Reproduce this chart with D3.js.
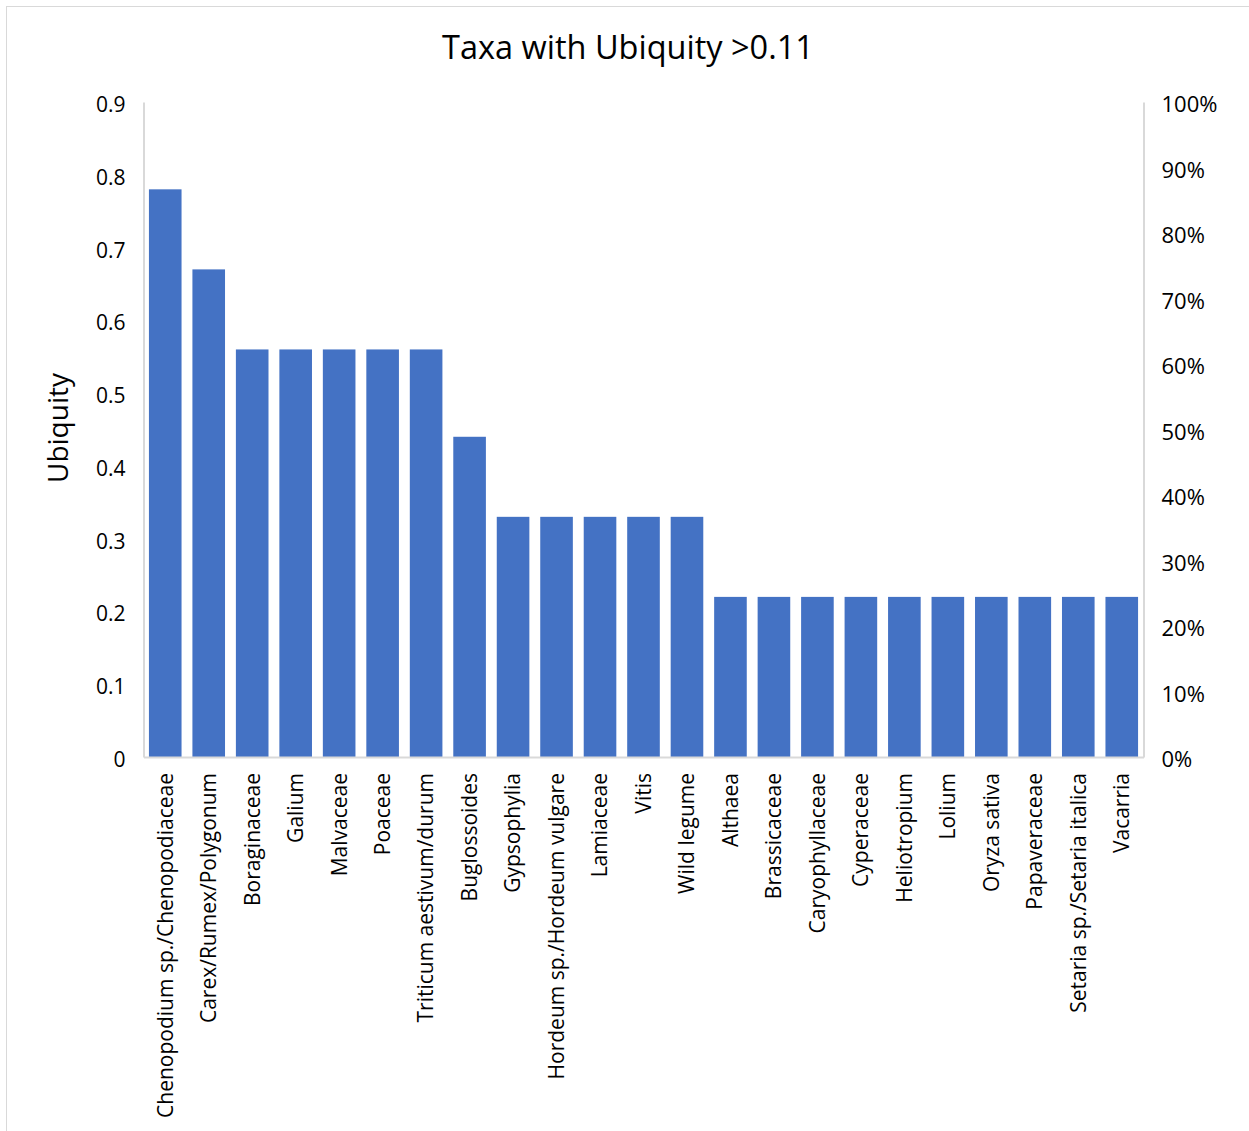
<!DOCTYPE html>
<html>
<head>
<meta charset="utf-8">
<script src="https://cdn.jsdelivr.net/npm/d3@7"></script>
<style>
  body { margin: 0; background: #fff; }
  text { font-family: "Open Sans", "Noto Sans", sans-serif; fill: #000; }
</style>
</head>
<body>
<div id="chart"></div>
<script>
var taxa = ["Chenopodium sp./Chenopodiaceae", "Carex/Rumex/Polygonum", "Boraginaceae", "Galium",
  "Malvaceae", "Poaceae", "Triticum aestivum/durum", "Buglossoides", "Gypsophylia",
  "Hordeum sp./Hordeum vulgare", "Lamiaceae", "Vitis", "Wild legume", "Althaea", "Brassicaceae",
  "Caryophyllaceae", "Cyperaceae", "Heliotropium", "Lolium", "Oryza sativa", "Papaveraceae",
  "Setaria sp./Setaria italica", "Vacarria"];
var ubiquity = [0.78, 0.67, 0.56, 0.56, 0.56, 0.56, 0.56, 0.44, 0.33, 0.33, 0.33, 0.33, 0.33,
  0.22, 0.22, 0.22, 0.22, 0.22, 0.22, 0.22, 0.22, 0.22, 0.22];
var leftTicks = [0, 0.1, 0.2, 0.3, 0.4, 0.5, 0.6, 0.7, 0.8, 0.9];
var rightTicks = [0, 0.1, 0.2, 0.3, 0.4, 0.5, 0.6, 0.7, 0.8, 0.9, 1];

var data = taxa.map(function(t, i){ return {t: t, v: ubiquity[i]}; });

var width = 1249,
    height = 1131;
var plot = {left: 143.5, right: 1143.5, top: 102, bottom: 757};

var svg = d3.select("#chart").append("svg")
    .attr("width", width)
    .attr("height", height);

// chart frame
svg.append("rect")
    .attr("x", 6.5).attr("y", 6.5)
    .attr("width", width + 10).attr("height", height + 10)
    .attr("fill", "none")
    .attr("stroke", "#d9d9d9");

var x = d3.scaleBand()
    .domain(taxa)
    .range([plot.left, plot.right])
    .paddingInner(0.25)
    .paddingOuter(0.125);

var y = d3.scaleLinear()
    .domain([0, 0.9])
    .range([plot.bottom, plot.top]);

var y2 = d3.scaleLinear()
    .domain([0, 1])
    .range([plot.bottom, plot.top]);

// bars
svg.append("g").selectAll("rect")
    .data(data)
    .enter().append("rect")
    .attr("x", function(d){ return x(d.t); })
    .attr("width", x.bandwidth())
    .attr("y", function(d){ return y(d.v); })
    .attr("height", function(d){ return y(0) - y(d.v); })
    .attr("fill", "#4472c4");

// axes
var yAxis = d3.axisLeft(y).tickValues(leftTicks).tickSize(0).tickPadding(18)
    .tickFormat(function(d){ return d === 0 ? "0" : d3.format(".1f")(d); });
var gy = svg.append("g")
    .attr("transform", "translate(" + plot.left + ",0)")
    .call(yAxis);

var y2Axis = d3.axisRight(y2).tickValues(rightTicks).tickSize(0).tickPadding(18)
    .tickFormat(d3.format(".0%"));
var gy2 = svg.append("g")
    .attr("transform", "translate(" + plot.right + ",0)")
    .call(y2Axis);

var xAxis = d3.axisBottom(x).tickSize(0).tickPadding(16);
var gx = svg.append("g")
    .attr("transform", "translate(0," + plot.bottom + ")")
    .call(xAxis);

gx.selectAll("text")
    .attr("transform", "rotate(-90)")
    .attr("text-anchor", "end")
    .attr("x", -16)
    .attr("y", 0)
    .attr("dy", "0.35em");

[gx, gy, gy2].forEach(function(g){
  g.select(".domain").attr("stroke", "#d9d9d9").attr("stroke-width", 2);
  g.selectAll("text").style("font-size", "21px").attr("fill", "#000");
});
gy2.selectAll("text").style("font-size", "22px");
gy.selectAll("text").attr("dy", "0.45em");
gy2.selectAll("text").attr("dy", "0.45em");

// title and axis label
svg.append("text")
    .attr("x", 628)
    .attr("y", 59)
    .attr("text-anchor", "middle")
    .style("font-size", "32.5px")
    .text("Taxa with Ubiquity >0.11");

svg.append("text")
    .attr("transform", "translate(68,428) rotate(-90)")
    .attr("text-anchor", "middle")
    .style("font-size", "28px")
    .text("Ubiquity");
</script>
</body>
</html>
